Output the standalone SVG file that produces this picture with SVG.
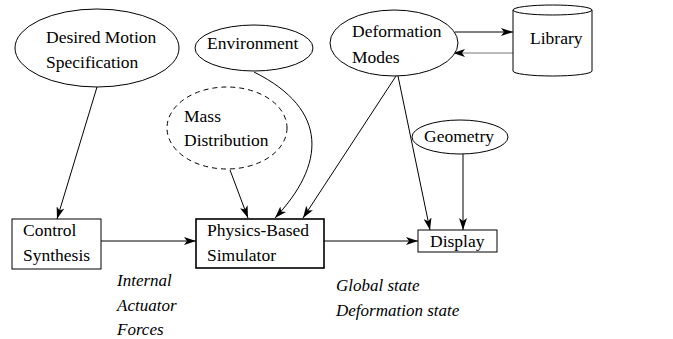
<svg xmlns="http://www.w3.org/2000/svg" width="673" height="339" viewBox="0 0 673 339">
  <style>
    .shape { fill: #fff; stroke: #000; stroke-width: 1; }
    .thick { stroke-width: 1.6; }
    .dash { stroke-dasharray: 5 4; }
    .lbl { font-family: "Liberation Serif", "Times New Roman", serif; font-size: 17.5px; fill: #000; }
    .note { font-family: "Liberation Serif", "Times New Roman", serif; font-size: 17px; font-style: italic; fill: #000; }
    .edge { fill: none; stroke: #000; stroke-width: 1; marker-end: url(#arr); }
  </style>
  <defs>
    <marker id="arr" viewBox="0 0 12 8" refX="12" refY="4" markerWidth="12" markerHeight="8" markerUnits="userSpaceOnUse" orient="auto">
      <path d="M0,0 L12,4 L0,8 L3,4 Z" fill="#000"/>
    </marker>
  </defs>
  <rect width="673" height="339" fill="#fff"/>

  <g id="connectors">
    <line class="edge" x1="97" y1="87" x2="57" y2="219"/>
    <line class="edge" x1="101" y1="241" x2="196" y2="241"/>
    <line class="edge" x1="230" y1="170" x2="248" y2="218"/>
    <path class="edge" d="M254,72 C330,110 325,165 275,218"/>
    <line class="edge" x1="396" y1="76" x2="303" y2="218"/>
    <line class="edge" x1="398" y1="76" x2="430" y2="230"/>
    <line class="edge" x1="463" y1="153" x2="463" y2="230"/>
    <line class="edge" x1="324" y1="241" x2="418" y2="241"/>
    <line class="edge" x1="455" y1="32" x2="513" y2="32"/>
    <line class="edge" x1="513" y1="53" x2="453" y2="53" style="stroke:#777"/>
  </g>

  <g id="desired-motion">
    <ellipse class="shape" cx="97" cy="48" rx="82" ry="39"/>
    <text class="lbl" x="46" y="43">Desired Motion</text>
    <text class="lbl" x="46" y="68">Specification</text>
  </g>
  <g id="environment">
    <ellipse class="shape" cx="254" cy="48" rx="59" ry="23"/>
    <text class="lbl" x="207" y="49">Environment</text>
  </g>
  <g id="mass-distribution">
    <ellipse class="shape dash" cx="227" cy="128" rx="60" ry="41"/>
    <text class="lbl" x="184" y="122">Mass</text>
    <text class="lbl" x="184" y="146">Distribution</text>
  </g>
  <g id="deformation-modes">
    <ellipse class="shape" cx="394" cy="43" rx="64" ry="33"/>
    <text class="lbl" x="352" y="37">Deformation</text>
    <text class="lbl" x="352" y="63">Modes</text>
  </g>
  <g id="library">
    <path class="shape" d="M513,10 L513,71 A39.5,5 0 0 0 592,71 L592,10"/>
    <ellipse class="shape" cx="552.5" cy="10" rx="39.5" ry="5"/>
    <text class="lbl" x="530" y="44">Library</text>
  </g>
  <g id="geometry">
    <ellipse class="shape" cx="460" cy="137" rx="48" ry="17"/>
    <text class="lbl" x="424" y="142">Geometry</text>
  </g>
  <g id="control-synthesis">
    <rect class="shape" x="12" y="219" width="89" height="50"/>
    <text class="lbl" x="23" y="236">Control</text>
    <text class="lbl" x="23" y="261">Synthesis</text>
  </g>
  <g id="physics-simulator">
    <rect class="shape thick" x="196" y="219" width="128" height="49"/>
    <text class="lbl" x="207" y="236">Physics-Based</text>
    <text class="lbl" x="207" y="261">Simulator</text>
  </g>
  <g id="display">
    <rect class="shape" x="418" y="230" width="79" height="22"/>
    <text class="lbl" x="430" y="247">Display</text>
  </g>

  <g id="annotations">
    <text class="note" x="117" y="286">Internal</text>
    <text class="note" x="117" y="311">Actuator</text>
    <text class="note" x="117" y="335">Forces</text>
    <text class="note" x="336" y="291">Global state</text>
    <text class="note" x="336" y="316">Deformation state</text>
  </g>
</svg>
